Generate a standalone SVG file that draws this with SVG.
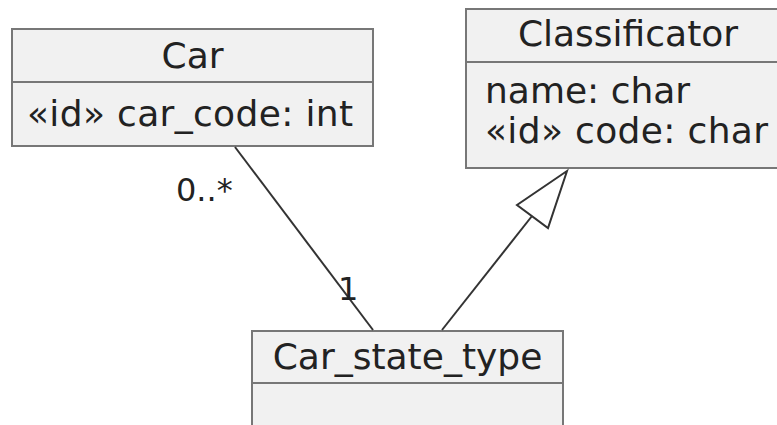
<svg xmlns="http://www.w3.org/2000/svg" width="777" height="425" viewBox="0 0 777 425">
<style>
.box{fill:#F1F1F1;stroke:#777;stroke-width:2}
.t{font-family:"DejaVu Sans",sans-serif;font-size:36px;fill:#222}
.c{text-anchor:middle}
.lbl{font-family:"DejaVu Sans",sans-serif;font-size:32px;fill:#222}
.edge{stroke:#333;stroke-width:2;fill:none}
</style>
<rect width="777" height="425" fill="#fff"/>
<g id="Car">
<rect class="box" x="12" y="29" width="361" height="117"/>
<line class="box" x1="12" y1="82" x2="373" y2="82"/>
<text class="t c" x="192.5" y="68">Car</text>
<text class="t" x="27" y="126" textLength="326">«id» car_code: int</text>
</g>
<g id="Classificator">
<rect class="box" x="466" y="9" width="330" height="159"/>
<line class="box" x1="466" y1="62" x2="796" y2="62"/>
<text class="t c" x="628" y="46">Classificator</text>
<text class="t" x="485" y="103">name: char</text>
<text class="t" x="485" y="143" textLength="283">«id» code: char</text>
</g>
<g id="Car_state_type">
<rect class="box" x="252" y="331" width="311" height="110"/>
<line class="box" x1="252" y1="383" x2="563" y2="383"/>
<text class="t c" x="407.5" y="369">Car_state_type</text>
</g>
<g id="connectors">
<line class="edge" x1="235" y1="147" x2="373" y2="330"/>
<text class="lbl" x="176" y="201">0..*</text>
<text class="lbl" x="338" y="300">1</text>
<line class="edge" x1="442" y1="330" x2="532" y2="216"/>
<polygon class="edge" points="567,171 517,205 548,228"/>
</g>
</svg>
